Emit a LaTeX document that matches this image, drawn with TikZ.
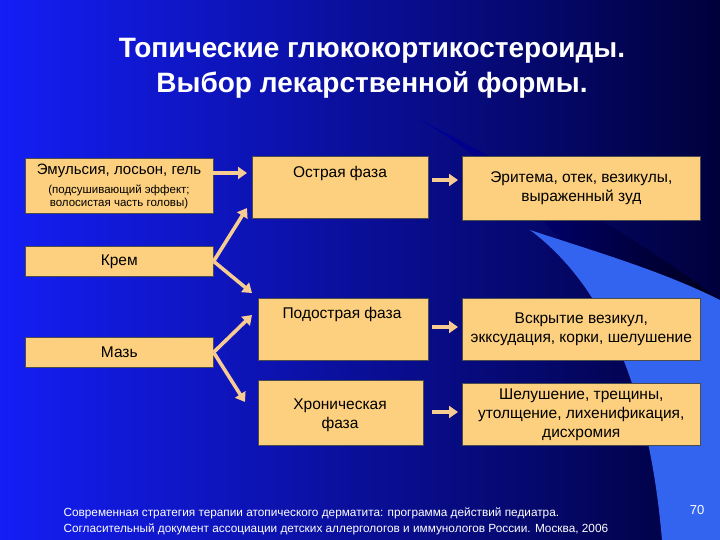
\documentclass[tikz,border=0pt]{standalone}
\usepackage{fontspec}
\setmainfont{Liberation Sans}
\usetikzlibrary{arrows.meta}
\definecolor{boxc}{HTML}{FCD07E}
\definecolor{arrc}{HTML}{F6CC92}
\begin{document}
\begin{tikzpicture}[x=1pt,y=-1pt,
  bx/.style={draw=black!70,fill=boxc,line width=0.6pt,inner sep=2pt,align=center,font=\fontsize{15.5}{19}\selectfont},
  ar/.style={draw=arrc,line width=3.6pt,-{Triangle[length=9pt,width=12pt]}}]
\useasboundingbox (0,0) rectangle (720,540);
\shade[left color={rgb,255:red,20;green,30;blue,245}, right color={rgb,255:red,0;green,0;blue,60}] (0,0) rectangle (720,540);
\shade[left color={rgb,255:red,0;green,0;blue,160},right color={rgb,255:red,0;green,0;blue,25}] (420,120) .. controls (560,200) and (640,330) .. (690,540) -- (720,540) -- (720,300) .. controls (640,240) and (520,170) .. (420,120);
\fill[color={rgb,255:red,50;green,100;blue,240}] (530,230) .. controls (610,290) and (650,400) .. (662,540) -- (720,540) -- (720,300) .. controls (660,270) and (590,250) .. (530,230);
\node[text=white,font=\bfseries\fontsize{28}{35}\selectfont,align=center] (title) at (372,68) {Топические глюкокортикостероиды.\\Выбор лекарственной формы.};
\node[bx,minimum width=188pt,minimum height=55pt,anchor=north west,align=center] (em) at (25,158) {};
\node[anchor=north,font=\fontsize{15}{18}\selectfont] at (119,160) {Эмульсия, лосьон, гель};
\node[anchor=north,align=center,font=\fontsize{11.5}{13.5}\selectfont] at (119,181) {(подсушивающий эффект;\\волосистая часть головы)};
\node[bx,minimum width=188pt,minimum height=30pt,anchor=north west] (kr) at (25,246) {Крем};
\node[bx,minimum width=188pt,minimum height=30pt,anchor=north west] (maz) at (25,337) {Мазь};
\node[bx,minimum width=176pt,minimum height=62pt,anchor=north west] (ostr) at (252,156) {};
\node[font=\fontsize{15.5}{19}\selectfont] at (340,173) {Острая фаза};
\node[bx,minimum width=170pt,minimum height=62pt,anchor=north west] (podo) at (258,298) {};
\node[font=\fontsize{15.5}{19}\selectfont] at (342,314) {Подострая фаза};
\node[bx,minimum width=165pt,minimum height=65pt,anchor=north west] (hron) at (258,380) {};
\node[align=center,font=\fontsize{15.5}{19}\selectfont] at (340,415) {Хроническая\\фаза};
\node[bx,minimum width=238pt,minimum height=64pt,anchor=north west] (r1) at (462,156) {Эритема, отек, везикулы,\\выраженный зуд};
\node[bx,minimum width=238pt,minimum height=62pt,anchor=north west] (r2) at (462,298) {Вскрытие везикул,\\экксудация, корки, шелушение};
\node[bx,minimum width=238pt,minimum height=62pt,anchor=north west] (r3) at (462,383) {Шелушение, трещины,\\утолщение, лихенификация,\\дисхромия};
\draw[ar] (213,173) -- (247,173);
\draw[ar] (kr.east) -- (247,208);
\draw[ar] (kr.east) -- (252,293);
\draw[ar] (maz.east) -- (252,315);
\draw[ar] (maz.east) -- (245,402);
\draw[ar] (432,180) -- (458,180);
\draw[ar] (432,327) -- (458,327);
\draw[ar] (432,412) -- (458,412);
\node[text=white,anchor=west,align=left,font=\fontsize{11.8}{16}\selectfont] (ft) at (60,521) {Современная стратегия терапии атопического дерматита: программа действий педиатра.\\Согласительный документ ассоциации детских аллергологов и иммунологов России. Москва, 2006};
\node[text=white,font=\fontsize{13}{15}\selectfont] (pg) at (697,510) {70};
\end{tikzpicture}
\end{document}
